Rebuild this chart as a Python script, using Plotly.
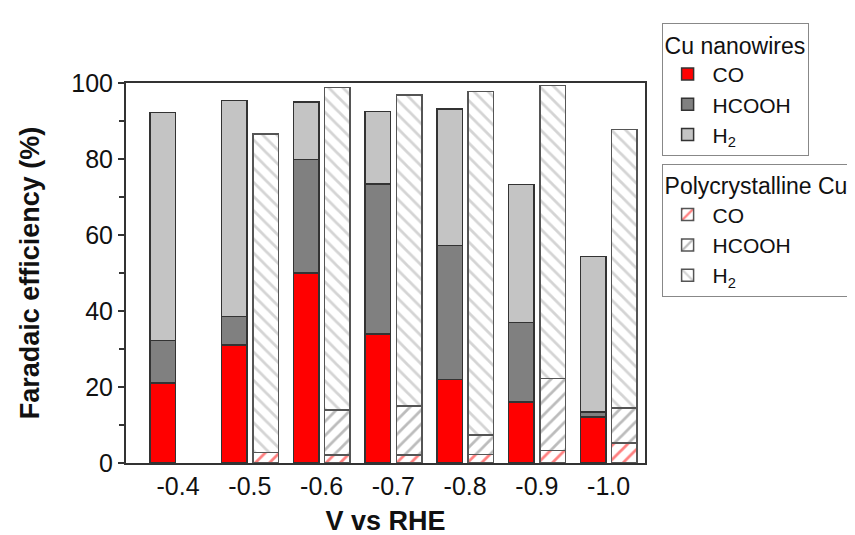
import plotly.graph_objects as go

potentials = ["-0.4", "-0.5", "-0.6", "-0.7", "-0.8", "-0.9", "-1.0"]

# Cu nanowires (Faradaic efficiency, %)
nw_co = [21.0, 31.0, 50.0, 34.0, 22.0, 16.0, 12.1]
nw_hcooh = [11.3, 7.6, 29.9, 39.4, 35.2, 21.0, 1.3]
nw_h2 = [59.9, 56.8, 15.1, 19.1, 36.0, 36.3, 40.9]

# Polycrystalline Cu (Faradaic efficiency, %)
pc_co = [None, 2.8, 2.1, 2.1, 2.2, 3.3, 5.2]
pc_hcooh = [None, None, 11.9, 12.9, 5.2, 18.9, 9.3]
pc_h2 = [None, 83.8, 84.8, 81.9, 90.4, 77.1, 73.2]

FONT = "Liberation Sans, Arial, sans-serif"
idx = list(range(len(potentials)))
nw_x = [i - 0.215 for i in idx]
pc_x = [i + 0.219 for i in idx]
BW = 0.356

fig = go.Figure()

nw_series = [("CO", nw_co, "#ff0000"), ("HCOOH", nw_hcooh, "#808080"), ("H<sub>2</sub>", nw_h2, "#c4c4c4")]
for name, vals, col in nw_series:
    fig.add_trace(go.Bar(
        x=nw_x, y=vals, width=BW, name=name, legend="legend",
        marker=dict(color=col, line=dict(color="#333333", width=1.5)),
    ))

pc_series = [("CO", pc_co, "/", "#ff0000"), ("HCOOH", pc_hcooh, "/", "#7a7a7a"), ("H<sub>2</sub>", pc_h2, "\\", "#aaaaaa")]
for name, vals, shp, fg in pc_series:
    fig.add_trace(go.Bar(
        x=pc_x, y=vals, width=BW, name=name, legend="legend2",
        marker=dict(color="white", line=dict(color="#555555", width=1.5),
                    pattern=dict(shape=shp, fgcolor=fg, bgcolor="white", size=10, solidity=0.28)),
    ))

fig.update_layout(
    width=855, height=535,
    barmode="stack",
    plot_bgcolor="white", paper_bgcolor="white",
    margin=dict(l=118, r=209, t=75, b=73),
    font=dict(family=FONT, size=24, color="#111111"),
    xaxis=dict(
        range=[-0.726, 6.507], tickmode="array", tickvals=idx, ticktext=potentials,
        showline=True, linecolor="#333333", linewidth=2, mirror=True,
        ticks="", showgrid=False, zeroline=False,
        tickfont=dict(size=25),
        title=dict(text="V vs RHE", font=dict(size=27, weight="bold"), standoff=12),
    ),
    yaxis=dict(
        range=[0, 100], tickvals=[0, 20, 40, 60, 80, 100],
        showline=True, linecolor="#333333", linewidth=2, mirror=True,
        ticks="outside", ticklen=6, tickwidth=1.5, tickcolor="#333333",
        minor=dict(tickvals=[10, 30, 50, 70, 90], ticks="outside", ticklen=5, tickwidth=1.5, tickcolor="#333333"),
        showgrid=False, zeroline=False,
        tickfont=dict(size=25),
        title=dict(text="Faradaic efficiency (%)", font=dict(size=27, weight="bold"), standoff=24),
    ),
    legend=dict(
        x=1.032, y=1.158, xanchor="left", yanchor="top",
        bgcolor="white", bordercolor="#888888", borderwidth=1,
        title=dict(text="Cu nanowires", font=dict(size=23)),
        font=dict(size=21), traceorder="normal", itemwidth=40,
    ),
    legend2=dict(
        x=1.032, y=0.788, xanchor="left", yanchor="top",
        bgcolor="white", bordercolor="#888888", borderwidth=1,
        title=dict(text="Polycrystalline Cu", font=dict(size=23)),
        font=dict(size=21), traceorder="normal", itemwidth=40,
    ),
    showlegend=True,
)

fig.write_html("out.html")
